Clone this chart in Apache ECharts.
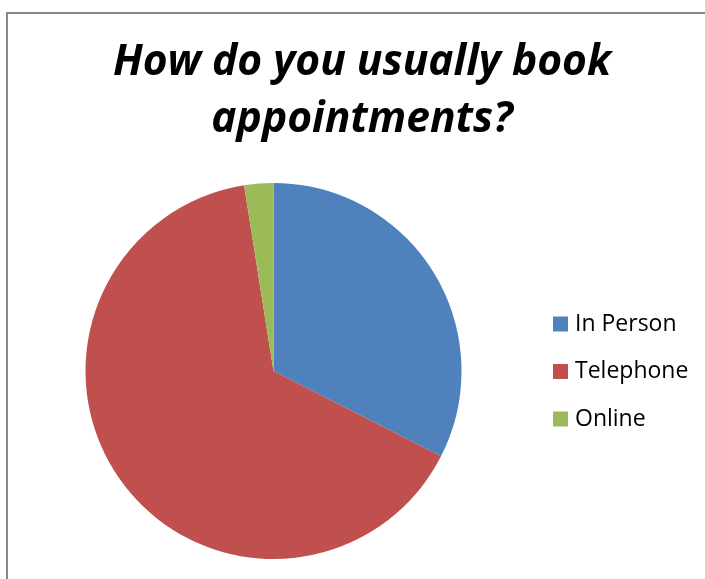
<!DOCTYPE html>
<html>
<head>
<meta charset="utf-8">
<script src="https://cdn.jsdelivr.net/npm/echarts@6/dist/echarts.min.js"></script>
<style>
  html, body { margin: 0; padding: 0; background: #fff; }
  #chart { width: 705px; height: 579px; }
</style>
</head>
<body>
<div id="chart"></div>
<script>
// Survey answers: how patients book appointments
const categories = ['In Person', 'Telephone', 'Online'];
const responses = [13, 26, 1];
const sliceColors = ['#4F81BD', '#C0504D', '#9BBB59'];
const chartTitle = 'How do you usually book\nappointments?';

const chart = echarts.init(document.getElementById('chart'), null, { renderer: 'canvas' });

chart.setOption({
  animation: false,
  backgroundColor: '#ffffff',
  color: sliceColors,
  graphic: [{
    type: 'rect',
    shape: { x: 7, y: 13, width: 760, height: 620 },
    style: { fill: 'none', stroke: '#888888', lineWidth: 2 },
    silent: true,
    z: -1
  }],
  title: {
    text: chartTitle,
    left: 357,
    textAlign: 'center',
    top: 29,
    textStyle: {
      fontFamily: 'Open Sans',
      fontWeight: 'bold',
      fontStyle: 'italic',
      fontSize: 42.5,
      lineHeight: 57,
      color: '#000'
    }
  },
  legend: {
    orient: 'vertical',
    left: 548,
    top: 307,
    itemWidth: 15,
    itemHeight: 15,
    itemGap: 23.5,
    icon: 'rect',
    textStyle: {
      fontFamily: 'Open Sans',
      fontSize: 23,
      lineHeight: 24,
      color: '#000',
      padding: [0, 0, 0, 2]
    },
    data: categories
  },
  series: [{
    type: 'pie',
    center: [273.5, 371],
    radius: 188,
    startAngle: 90,
    clockwise: true,
    label: { show: false },
    labelLine: { show: false },
    emphasis: { disabled: true },
    itemStyle: { borderWidth: 0 },
    data: categories.map((name, i) => ({ name: name, value: responses[i] }))
  }]
});
</script>
</body>
</html>
